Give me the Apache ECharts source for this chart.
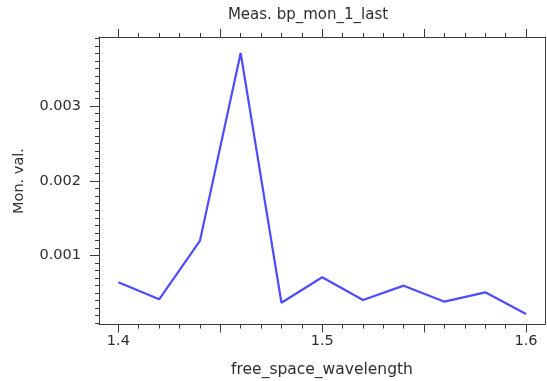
<!DOCTYPE html>
<html>
<head>
<meta charset="utf-8">
<script src="https://cdn.jsdelivr.net/npm/echarts@6/dist/echarts.min.js"></script>
<style>
html,body{margin:0;padding:0;background:#fff;}
#chart{width:547px;height:381px;}
</style>
</head>
<body>
<div id="chart"></div>
<script>
// ---- data ----
const wavelengths = [1.40, 1.42, 1.44, 1.46, 1.48, 1.50, 1.52, 1.54, 1.56, 1.58, 1.60];
const monValues = [0.000644, 0.000417, 0.001196, 0.003707, 0.000371, 0.000711, 0.000407, 0.000599, 0.000385, 0.000510, 0.000220];

// ---- ticks / labels ----
const xLabelValues = [1.4, 1.5, 1.6];
const xMajorTicks = [1.40, 1.45, 1.50, 1.55, 1.60];
const xMinorTicks = [1.39, 1.41, 1.42, 1.43, 1.44, 1.46, 1.47, 1.48, 1.49, 1.51, 1.52, 1.53, 1.54, 1.56, 1.57, 1.58, 1.59];
const yLabelValues = [0.001, 0.002, 0.003];
const yMajorTicks = [0.001, 0.002, 0.003];
const yMinorTicks = [0.0001, 0.0002, 0.0003, 0.0004, 0.0005, 0.0006, 0.0007, 0.0008, 0.0009,
  0.0011, 0.0012, 0.0013, 0.0014, 0.0015, 0.0016, 0.0017, 0.0018, 0.0019,
  0.0021, 0.0022, 0.0023, 0.0024, 0.0025, 0.0026, 0.0027, 0.0028, 0.0029,
  0.0031, 0.0032, 0.0033, 0.0034, 0.0035, 0.0036, 0.0037, 0.0038, 0.0039];

const titleText = 'Meas. bp_mon_1_last';
const xName = 'free_space_wavelength';
const yName = 'Mon. val.';

const X_MIN = 1.3905, X_MAX = 1.6093;
const Y_MIN = 0.00008, Y_MAX = 0.003921;
const AX = '#3a3a3a';
const FONT = 'DejaVu Sans';
const TXT = '#2e2e2e';

function xAxisDef(pos, ticks, len, showLine, labels) {
  return {
    type: 'value', position: pos, min: X_MIN, max: X_MAX,
    axisLine: { show: showLine, onZero: false, lineStyle: { color: AX, width: 1 } },
    axisTick: { show: true, customValues: ticks, length: len, lineStyle: { color: AX, width: 1 } },
    axisLabel: labels ? { show: true, customValues: labels, margin: 9, color: TXT, fontFamily: FONT, fontSize: 14.5,
      formatter: v => Number(v).toFixed(1) } : { show: false },
    splitLine: { show: false }
  };
}
function yAxisDef(pos, ticks, len, showLine, labels, showTick) {
  return {
    type: 'value', position: pos, min: Y_MIN, max: Y_MAX,
    axisLine: { show: showLine, onZero: false, lineStyle: { color: AX, width: 1 } },
    axisTick: { show: showTick, customValues: ticks, length: len, lineStyle: { color: AX, width: 1 } },
    axisLabel: labels ? { show: true, customValues: labels, margin: 18, color: TXT, fontFamily: FONT, fontSize: 14.5,
      formatter: v => Number(v).toFixed(3) } : { show: false },
    splitLine: { show: false }
  };
}

const chart = echarts.init(document.getElementById('chart'), null, { renderer: 'canvas' });
chart.setOption({
  animation: false,
  backgroundColor: '#fff',
  grid: { left: 99, right: 2, top: 37, bottom: 56.5, containLabel: false },
  xAxis: [
    xAxisDef('bottom', xMajorTicks, 8, true, xLabelValues),
    xAxisDef('bottom', xMinorTicks, 4, false, null),
    xAxisDef('top', xMajorTicks, 8, true, null),
    xAxisDef('top', xMinorTicks, 4, false, null)
  ],
  yAxis: [
    yAxisDef('left', yMajorTicks, 9, true, yLabelValues, true),
    yAxisDef('left', yMinorTicks, 4, false, null, true),
    yAxisDef('right', yMajorTicks, 0, true, null, false)
  ],
  graphic: [
    { type: 'text', x: 308, y: 15, style: { text: titleText, fontFamily: FONT, fontSize: 15, fill: TXT, align: 'center', verticalAlign: 'middle' } },
    { type: 'text', x: 322, y: 370, style: { text: xName, fontFamily: FONT, fontSize: 15.5, fill: TXT, align: 'center', verticalAlign: 'middle' } },
    { type: 'text', x: 19, y: 181, rotation: Math.PI / 2, style: { text: yName, fontFamily: FONT, fontSize: 14.5, fill: TXT, align: 'center', verticalAlign: 'middle' } }
  ],
  series: [{
    type: 'line',
    xAxisIndex: 0, yAxisIndex: 0,
    data: wavelengths.map((w, i) => [w, monValues[i]]),
    symbol: 'none',
    lineStyle: { color: '#4d4dff', width: 2.2 },
    itemStyle: { color: '#4d4dff' }
  }]
});
</script>
</body>
</html>
